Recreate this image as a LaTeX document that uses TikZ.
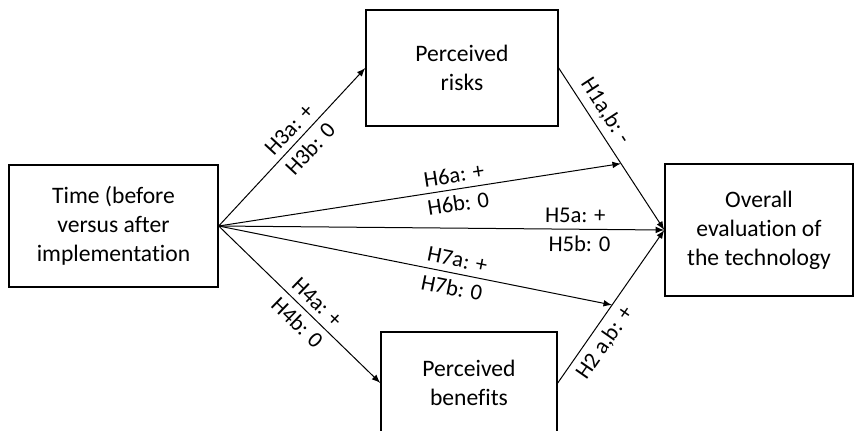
\documentclass[tikz,border=0pt]{standalone}
\usepackage{fontspec}
\setmainfont{Carlito}[Ligatures=NoCommon]
\usetikzlibrary{calc}

\begin{document}
\begin{tikzpicture}[x=0.5pt,y=-0.5pt,->,>=latex,line width=0.5pt]
    \tikzstyle{main}=[rectangle, draw=black, line width=0.7pt, align=center, font=\fontsize{11.8}{14.5}\selectfont]
    \tikzstyle{lab}=[sloped, font=\fontsize{11.3}{12}\selectfont, inner sep=3pt]
    \useasboundingbox (0,0) rectangle (854,430);
    % boxes
    \node[main, minimum width=104.5pt, minimum height=61pt] (time) at (113.5,226) {Time (before\\versus after\\implementation};
    \node[main, minimum width=96pt, minimum height=58pt] (risks) at (462,68) {Perceived\\risks};
    \node[main, minimum width=88pt, minimum height=51pt] (benefits) at (469,383) {Perceived\\benefits};
    \node[main, minimum width=94pt, minimum height=66pt] (overall) at (759,230) {Overall\\evaluation of\\the technology};
    % ends on the mediator paths
    \coordinate (h6end) at ($(risks.east)!0.59!(overall.west)$);
    \coordinate (h7end) at ($(benefits.east)!0.51!(overall.west)$);
    % time -> mediators
    \path (time.east) edge node[lab, above, pos=0.55] {H3a: +} node[lab, below, pos=0.55] {H3b: 0} (risks.west);
    \path (time.east) edge node[lab, above, pos=0.55] {H4a: +} node[lab, below, pos=0.55] {H4b: 0} (benefits.west);
    % time -> overall
    \path (time.east) edge node[lab, above, pos=0.59] {H6a: +} node[lab, below, pos=0.59] {H6b: 0} (h6end);
    \path (time.east) edge node[lab, above, pos=0.8] {H5a: +} node[lab, below, pos=0.81] {H5b: 0} (overall.west);
    \path (time.east) edge node[lab, above, pos=0.6] {H7a: +} node[lab, below, pos=0.6] {H7b: 0} (h7end);
    % mediators -> overall
    \path (risks.east) edge node[lab, above, pos=0.32] {H1a,b: -} (overall.west);
    \path (benefits.east) edge node[lab, below, pos=0.32] {H2 a,b: +} (overall.west);
\end{tikzpicture}
\end{document}
